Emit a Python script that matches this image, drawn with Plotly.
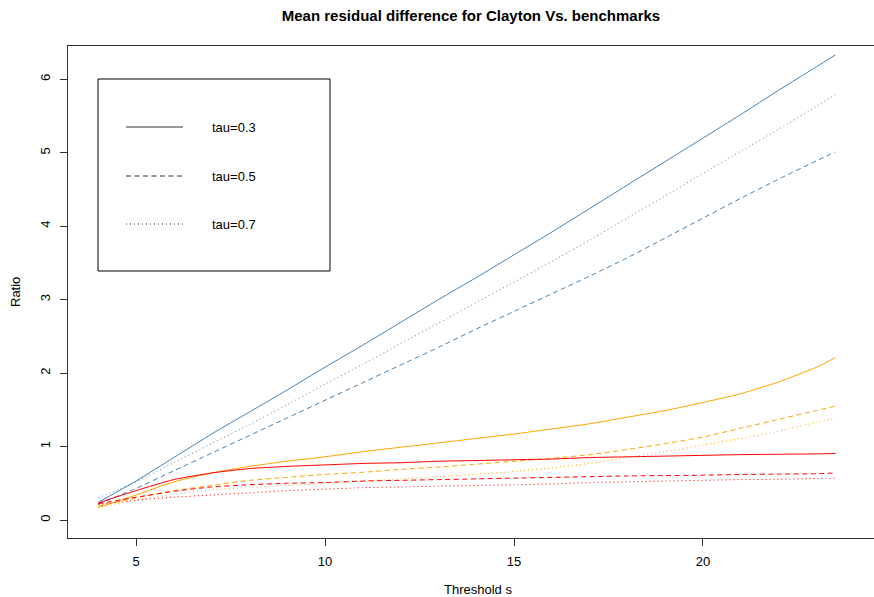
import plotly.graph_objects as go

# ---- data ----
threshold = [4, 5, 6, 7, 8, 9, 10, 11, 12, 13, 14, 15, 16, 17, 18, 19, 20, 21, 22, 23, 23.5]

blue_tau03 = [0.24, 0.53, 0.85, 1.17, 1.47, 1.77, 2.08, 2.38, 2.69, 3.00, 3.30, 3.61, 3.92,
              4.24, 4.56, 4.88, 5.20, 5.52, 5.85, 6.17, 6.33]
blue_tau05 = [0.22, 0.43, 0.67, 0.91, 1.15, 1.39, 1.63, 1.87, 2.11, 2.35, 2.60, 2.84, 3.08,
              3.32, 3.57, 3.84, 4.11, 4.38, 4.64, 4.89, 5.01]
blue_tau07 = [0.30, 0.52, 0.78, 1.04, 1.30, 1.57, 1.85, 2.12, 2.40, 2.68, 2.96, 3.24, 3.52,
              3.81, 4.11, 4.41, 4.72, 5.02, 5.32, 5.63, 5.79]

orange_tau03 = [0.17, 0.34, 0.52, 0.64, 0.73, 0.80, 0.86, 0.93, 0.99, 1.05, 1.11, 1.17, 1.24,
                1.31, 1.40, 1.49, 1.60, 1.72, 1.88, 2.08, 2.21]
orange_tau05 = [0.19, 0.30, 0.40, 0.47, 0.54, 0.58, 0.62, 0.65, 0.69, 0.72, 0.76, 0.80, 0.84,
                0.89, 0.96, 1.04, 1.13, 1.25, 1.37, 1.49, 1.55]
orange_tau07 = [0.17, 0.27, 0.35, 0.41, 0.445, 0.47, 0.50, 0.53, 0.56, 0.59, 0.62, 0.66, 0.71,
                0.77, 0.85, 0.93, 1.02, 1.11, 1.21, 1.33, 1.39]

red_tau03 = [0.23, 0.40, 0.55, 0.64, 0.70, 0.73, 0.75, 0.77, 0.78, 0.80, 0.81, 0.82, 0.83,
             0.85, 0.86, 0.87, 0.88, 0.89, 0.895, 0.90, 0.905]
red_tau05 = [0.22, 0.31, 0.39, 0.45, 0.48, 0.50, 0.51, 0.53, 0.54, 0.55, 0.56, 0.57, 0.58,
             0.59, 0.60, 0.605, 0.61, 0.62, 0.625, 0.63, 0.64]
red_tau07 = [0.21, 0.27, 0.31, 0.34, 0.37, 0.40, 0.42, 0.44, 0.45, 0.46, 0.47, 0.48, 0.49,
             0.51, 0.52, 0.53, 0.54, 0.55, 0.555, 0.565, 0.57]

x_ticks = [5, 10, 15, 20]
y_ticks = [0, 1, 2, 3, 4, 5, 6]
legend_labels = ["tau=0.3", "tau=0.5", "tau=0.7"]

# ---- styles ----
BLUE, ORANGE, RED = "#4682B4", "#FFA500", "#FF0000"
DASH = {"tau=0.3": "solid", "tau=0.5": "5px,3.5px", "tau=0.7": "1px,3px"}
FONT = "Liberation Sans, Arial, Helvetica, sans-serif"
FS = 13

series = [
    (blue_tau03, BLUE, "tau=0.3"), (blue_tau05, BLUE, "tau=0.5"), (blue_tau07, BLUE, "tau=0.7"),
    (orange_tau03, ORANGE, "tau=0.3"), (orange_tau05, ORANGE, "tau=0.5"), (orange_tau07, ORANGE, "tau=0.7"),
    (red_tau03, RED, "tau=0.3"), (red_tau05, RED, "tau=0.5"), (red_tau07, RED, "tau=0.7"),
]

fig = go.Figure()
for vals, col, tau in series:
    fig.add_trace(go.Scatter(
        x=threshold, y=vals, mode="lines",
        line=dict(color=col, width=1, dash=DASH[tau], shape="spline", smoothing=0.6),
        showlegend=False, hoverinfo="skip"))

W, H = 874, 597
L, R, T, B = 68, 0, 46, 59
pw, ph = W - L - R, H - T - B

def px(xp):
    return (xp - L) / pw

def py(yp):
    return (H - B - yp) / ph

axis_col = "#333333"
fig.update_layout(
    width=W, height=H,
    margin=dict(l=L, r=R, t=T, b=B, pad=0),
    paper_bgcolor="white", plot_bgcolor="white",
    font=dict(family=FONT, size=FS, color="black"),
    title=dict(text="<b>Mean residual difference for Clayton Vs. benchmarks</b>",
               x=471 / W, xanchor="center", y=1 - 16 / H, yanchor="middle",
               font=dict(family=FONT, size=15, color="black")),
    xaxis=dict(range=[3.201, 24.524], tickvals=x_ticks, ticks="outside", ticklen=7,
               tickcolor=axis_col, tickwidth=1, showline=True, linecolor=axis_col,
               linewidth=1, mirror=True, showgrid=False, zeroline=False,
               tickfont=dict(size=FS), ticklabelstandoff=4),
    yaxis=dict(range=[-0.245, 6.453], tickvals=y_ticks, ticks="outside", ticklen=7,
               tickcolor=axis_col, tickwidth=1, showline=True, linecolor=axis_col,
               linewidth=1, mirror=False, showgrid=False, zeroline=False,
               tickangle=-90, tickfont=dict(size=FS), ticklabelstandoff=5),
)

# axis titles
fig.add_annotation(text="Threshold s", xref="paper", yref="paper", x=px(478), y=py(589),
                   showarrow=False, xanchor="center", yanchor="middle", font=dict(size=FS))
fig.add_annotation(text="Ratio", xref="paper", yref="paper", x=px(15), y=py(292),
                   showarrow=False, xanchor="center", yanchor="middle", textangle=-90,
                   font=dict(size=FS))

# legend box (line type key)
fig.add_shape(type="rect", xref="paper", yref="paper", x0=px(98), x1=px(330),
              y0=py(271), y1=py(79), line=dict(color="black", width=1), fillcolor="rgba(0,0,0,0)")
rows = [127, 176, 224]
for lab, yrow in zip(legend_labels, rows):
    fig.add_shape(type="line", xref="paper", yref="paper", x0=px(126), x1=px(183),
                  y0=py(yrow), y1=py(yrow), line=dict(color="#333333", width=1, dash=DASH[lab]))
    fig.add_annotation(text=lab, xref="paper", yref="paper", x=px(210), y=py(yrow),
                       showarrow=False, xanchor="left", yanchor="middle", font=dict(size=FS))

fig.write_html("out.html")
